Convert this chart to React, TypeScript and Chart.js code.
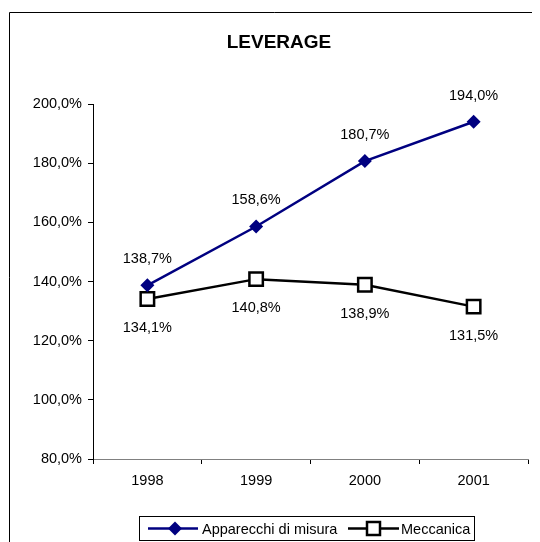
import React, { useEffect, useRef } from "react";
import { Chart, registerables } from "chart.js";

Chart.register(...registerables);

const categories = ["1998", "1999", "2000", "2001"];
const apparecchi = [138.7, 158.6, 180.7, 194.0];
const meccanica = [134.1, 140.8, 138.9, 131.5];
const seriesNames = ["Apparecchi di misura", "Meccanica"];
const chartTitle = "LEVERAGE";
const yMin = 80;
const yMax = 200;
const yStep = 20;

const FONT = "'Liberation Sans', Arial, sans-serif";
const fmt = (v: number) => v.toFixed(1).replace(".", ",") + "%";

const decorPlugin = {
  id: "decor",
  afterDraw(chart: any) {
    const ctx = chart.ctx as CanvasRenderingContext2D;
    ctx.save();
    // frame
    ctx.strokeStyle = "#000";
    ctx.lineWidth = 1;
    ctx.beginPath();
    ctx.moveTo(1.5, chart.height);
    ctx.lineTo(1.5, 4.5);
    ctx.lineTo(chart.width, 4.5);
    ctx.stroke();
    // title
    ctx.fillStyle = "#000";
    ctx.font = `bold 19px ${FONT}`;
    ctx.textAlign = "center";
    ctx.textBaseline = "middle";
    ctx.fillText(chartTitle, 271, 35);
    // data labels
    ctx.font = `14.5px ${FONT}`;
    chart.data.datasets.forEach((ds: any, i: number) => {
      const meta = chart.getDatasetMeta(i);
      meta.data.forEach((pt: any, j: number) => {
        const dy = i === 0 ? -26 : 29;
        ctx.fillText(fmt(ds.data[j]), pt.x, pt.y + dy);
      });
    });
    // legend
    const bx = 131.5, by = 508.5, bw = 335, bh = 24;
    ctx.strokeStyle = "#000";
    ctx.lineWidth = 1;
    ctx.strokeRect(bx, by, bw, bh);
    const cy = by + bh / 2;
    // series 1
    ctx.strokeStyle = "#000080";
    ctx.lineWidth = 2.5;
    ctx.beginPath();
    ctx.moveTo(140, cy);
    ctx.lineTo(190, cy);
    ctx.stroke();
    ctx.fillStyle = "#000080";
    ctx.beginPath();
    ctx.moveTo(167, cy - 7);
    ctx.lineTo(174, cy);
    ctx.lineTo(167, cy + 7);
    ctx.lineTo(160, cy);
    ctx.closePath();
    ctx.fill();
    ctx.fillStyle = "#000";
    ctx.textAlign = "left";
    ctx.fillText(seriesNames[0], 194, cy + 1);
    // series 2
    ctx.strokeStyle = "#000";
    ctx.lineWidth = 2.5;
    ctx.beginPath();
    ctx.moveTo(340, cy);
    ctx.lineTo(391, cy);
    ctx.stroke();
    ctx.fillStyle = "#fff";
    ctx.fillRect(359, cy - 6.5, 13, 13);
    ctx.strokeRect(359, cy - 6.5, 13, 13);
    ctx.fillStyle = "#000";
    ctx.fillText(seriesNames[1], 393, cy + 1);
    ctx.restore();
  },
};

export default function App() {
  const ref = useRef<HTMLCanvasElement>(null);
  useEffect(() => {
    if (!ref.current) return;
    const chart = new Chart(ref.current, {
      type: "line",
      data: {
        labels: categories,
        datasets: [
          {
            label: seriesNames[0],
            data: apparecchi,
            borderColor: "#000080",
            backgroundColor: "#000080",
            borderWidth: 2.5,
            pointStyle: "rectRot",
            pointRadius: 7,
            pointBorderWidth: 0,
            pointBackgroundColor: "#000080",
            tension: 0,
          },
          {
            label: seriesNames[1],
            data: meccanica,
            borderColor: "#000",
            backgroundColor: "#fff",
            borderWidth: 2.5,
            pointStyle: "rect",
            pointRadius: 9.5,
            pointBorderWidth: 2.5,
            pointBorderColor: "#000",
            pointBackgroundColor: "#fff",
            tension: 0,
          },
        ],
      },
      options: {
        responsive: false,
        animation: false,
        events: [],
        layout: { padding: { left: 0, right: 8, top: 96, bottom: 53 } },
        plugins: {
          legend: { display: false },
          title: { display: false },
          tooltip: { enabled: false },
        },
        scales: {
          x: {
            type: "category",
            offset: true,
            afterFit: (s: any) => {
              s.height = 30;
            },
            grid: {
              offset: true,
              drawOnChartArea: false,
              drawTicks: true,
              tickLength: 5,
              color: "#000",
            },
            border: { display: true, color: "#808080", width: 1 },
            ticks: {
              color: "#000",
              padding: 8,
              font: { family: FONT, size: 14.5 },
              maxRotation: 0,
            },
          },
          y: {
            type: "linear",
            min: yMin,
            max: yMax,
            afterFit: (s: any) => {
              s.width = 85;
            },
            grid: {
              drawOnChartArea: false,
              drawTicks: true,
              tickLength: 5,
              color: "#000",
            },
            border: { display: true, color: "#000", width: 1 },
            ticks: {
              stepSize: yStep,
              color: "#000",
              padding: 6,
              font: { family: FONT, size: 14.5 },
              callback: (v: any) => fmt(Number(v)),
            },
          },
        },
      },
      plugins: [decorPlugin],
    });
    return () => chart.destroy();
  }, []);
  return <canvas ref={ref} width={532} height={534} style={{ display: "block" }} />;
}
